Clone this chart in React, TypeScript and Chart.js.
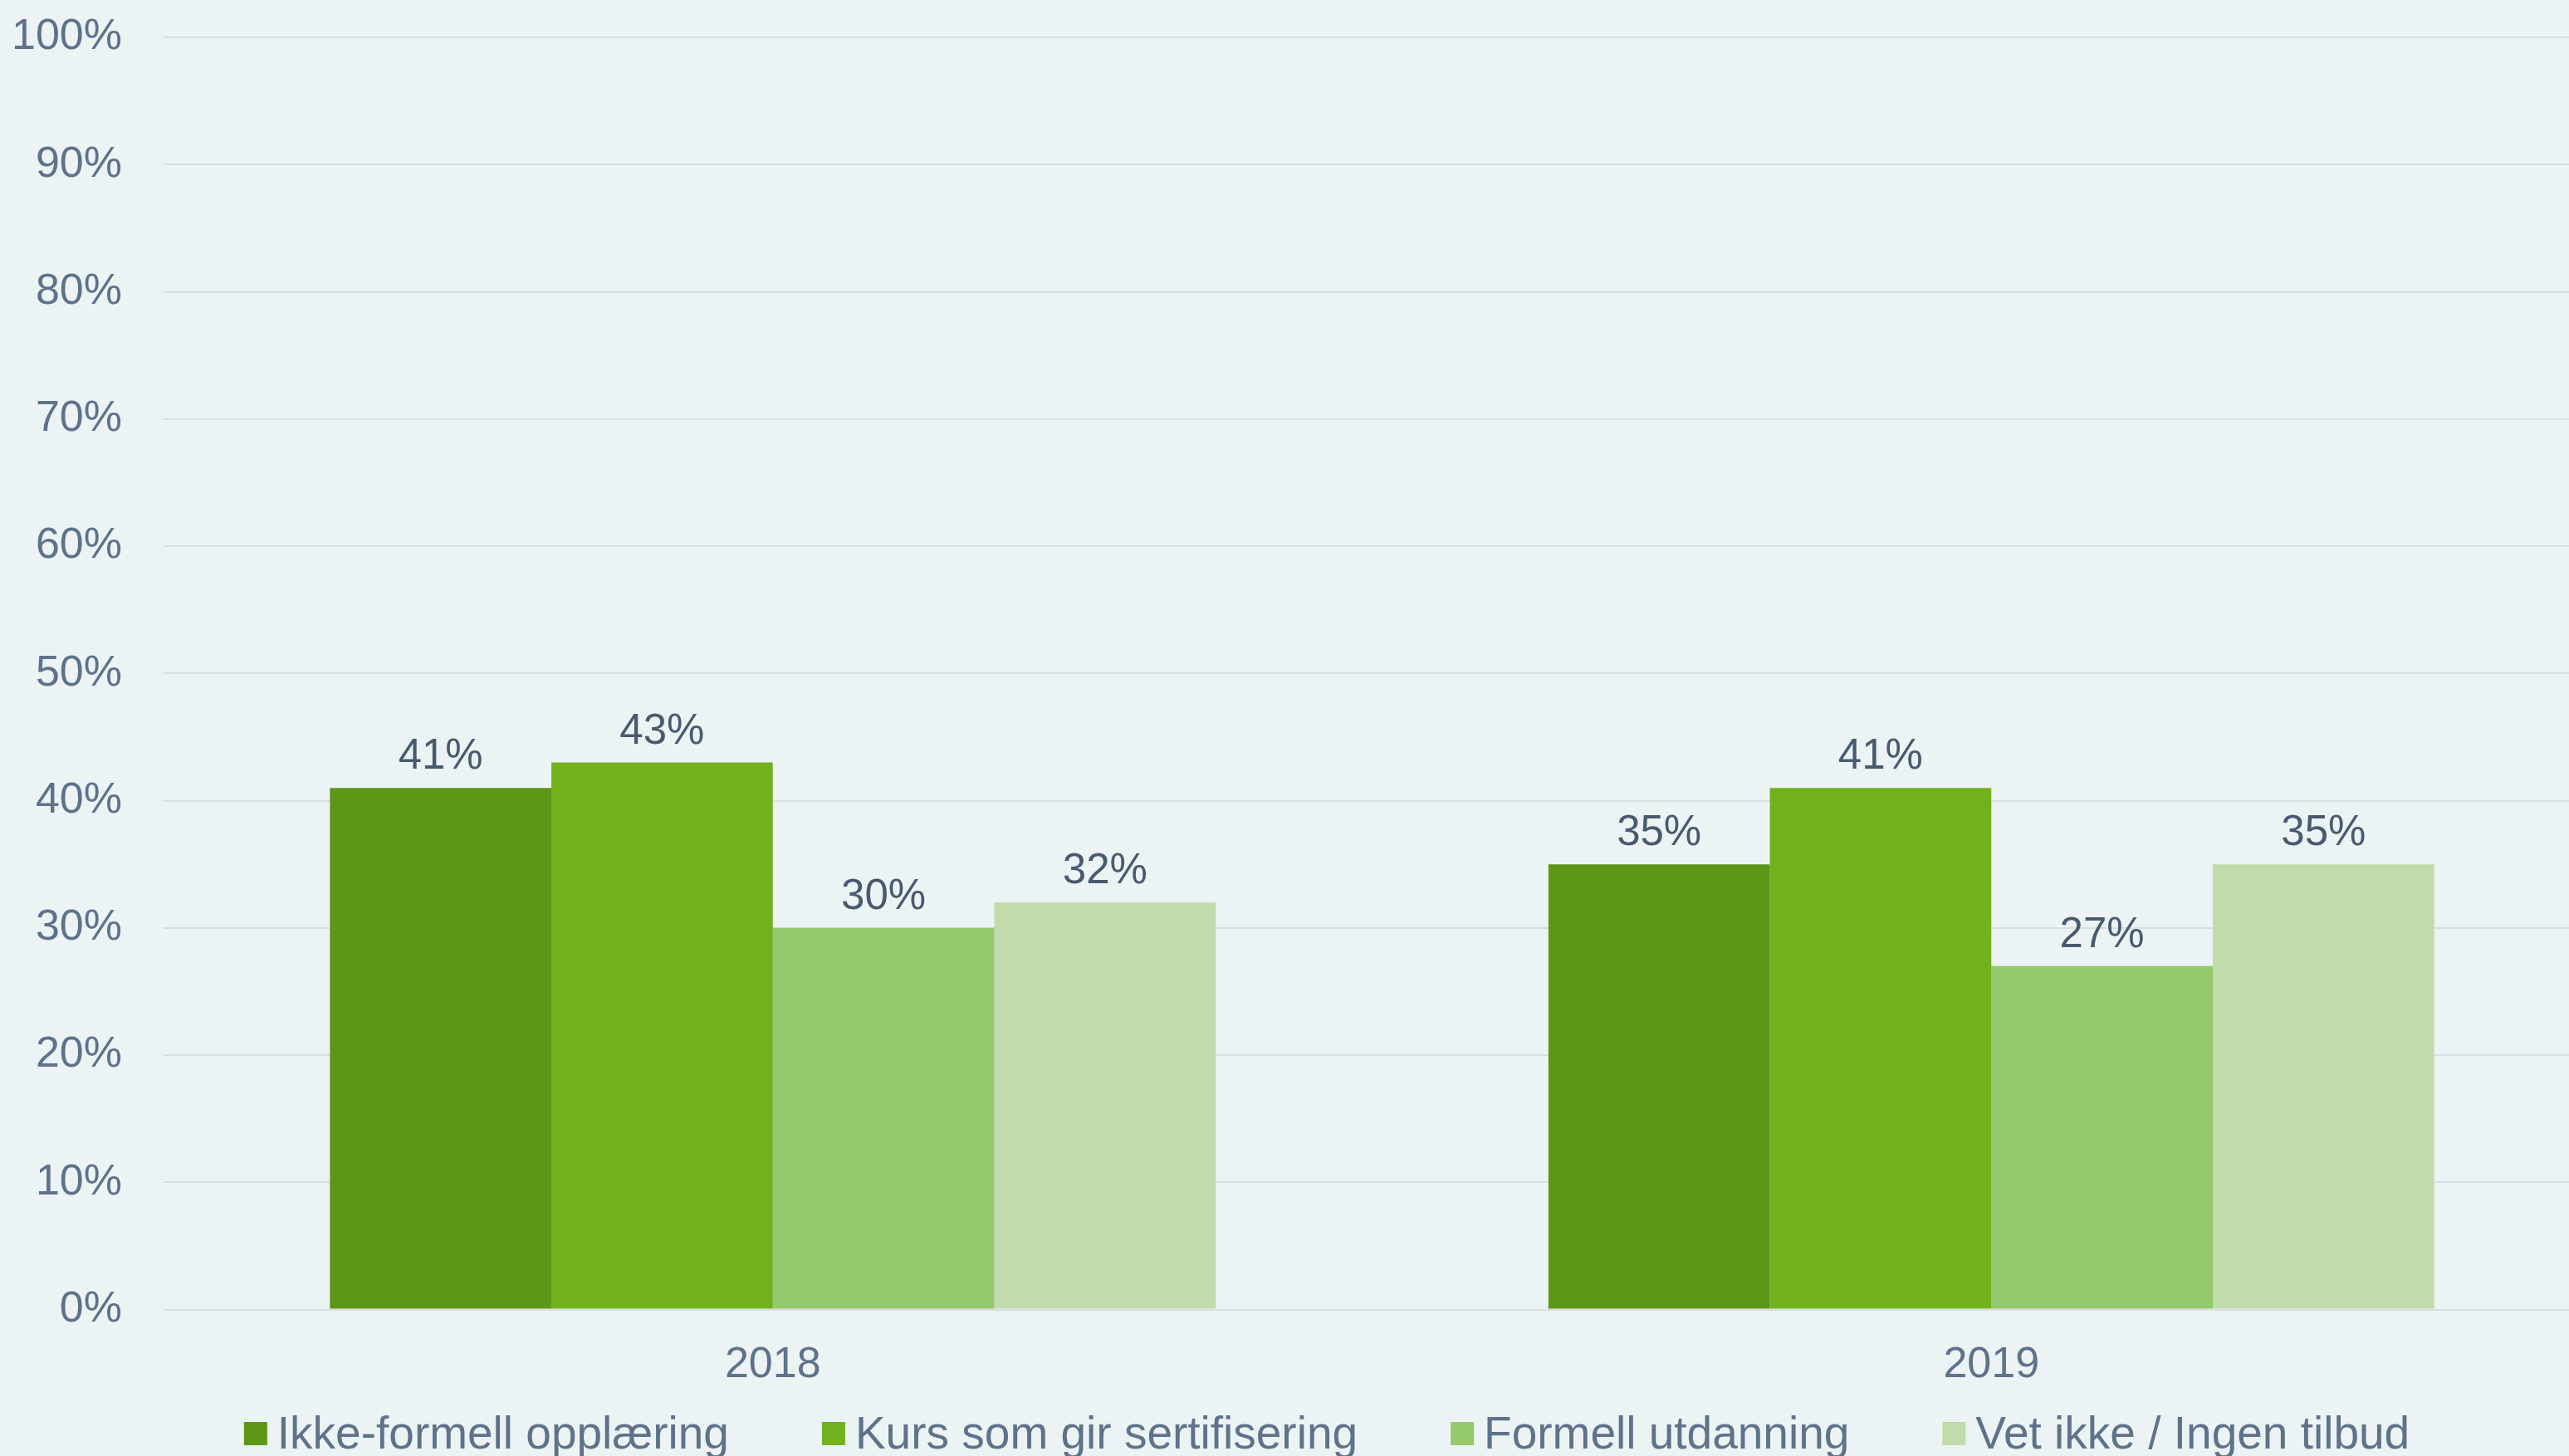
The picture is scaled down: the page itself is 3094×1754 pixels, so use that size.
import React, { useEffect, useRef } from 'react';
import { Chart, registerables } from 'chart.js';

Chart.register(...registerables);

const categories = ['2018', '2019'];
const seriesNames = [
  'Ikke-formell opplæring',
  'Kurs som gir sertifisering',
  'Formell utdanning',
  'Vet ikke / Ingen tilbud',
];
const ikkeFormell = [41, 35];
const kursSertifisering = [43, 41];
const formellUtdanning = [30, 27];
const vetIkke = [32, 35];
const seriesValues = [ikkeFormell, kursSertifisering, formellUtdanning, vetIkke];
const seriesColors = ['#5e9618', '#71b11e', '#96c96b', '#c1dbaa'];

const BG = '#ecf3f5';
const TICK_COLOR = '#5f728a';
const LABEL_COLOR = '#4a5a6e';
const FONT = '"Liberation Sans", Arial, sans-serif';

const W = 3132;
const H = 1754;

const bgPlugin = {
  id: 'bg',
  beforeDraw(chart: any) {
    const ctx = chart.ctx;
    ctx.save();
    ctx.fillStyle = BG;
    ctx.fillRect(0, 0, chart.width, chart.height);
    ctx.restore();
  },
};

const valueLabelPlugin = {
  id: 'valueLabels',
  afterDatasetsDraw(chart: any) {
    const ctx = chart.ctx;
    ctx.save();
    ctx.font = `51px ${FONT}`;
    ctx.fillStyle = LABEL_COLOR;
    ctx.textAlign = 'center';
    ctx.textBaseline = 'alphabetic';
    chart.data.datasets.forEach((ds: any, i: number) => {
      const meta = chart.getDatasetMeta(i);
      meta.data.forEach((el: any, j: number) => {
        ctx.fillText(`${ds.data[j]}%`, el.x, el.y - 23);
      });
    });
    ctx.restore();
  },
};

const legendPlugin = {
  id: 'customLegend',
  afterDraw(chart: any) {
    const ctx = chart.ctx;
    ctx.save();
    ctx.font = `55px ${FONT}`;
    ctx.textBaseline = 'alphabetic';
    ctx.textAlign = 'left';
    const box = 28;
    const boxGap = 12;
    const itemGap = 112;
    const items = chart.data.datasets.map((ds: any) => ({
      label: ds.label,
      color: ds.backgroundColor,
      w: ctx.measureText(ds.label).width,
    }));
    const total =
      items.reduce((s: number, it: any) => s + box + boxGap + it.w, 0) + itemGap * (items.length - 1);
    const center = 1598;
    let x = center - total / 2;
    const boxTop = 1713;
    const baseline = 1745;
    items.forEach((it: any) => {
      ctx.fillStyle = it.color;
      ctx.fillRect(x, boxTop, box, box);
      ctx.fillStyle = TICK_COLOR;
      ctx.fillText(it.label, x + box + boxGap, baseline);
      x += box + boxGap + it.w + itemGap;
    });
    ctx.restore();
  },
};

export default function App() {
  const ref = useRef<HTMLCanvasElement | null>(null);

  useEffect(() => {
    document.body.style.margin = '0';
    document.body.style.background = BG;
    const canvas = ref.current;
    if (!canvas) return;
    const chart = new Chart(canvas, {
      type: 'bar',
      data: {
        labels: categories,
        datasets: seriesNames.map((name, i) => ({
          label: name,
          data: seriesValues[i],
          backgroundColor: seriesColors[i],
          borderWidth: 0,
          categoryPercentage: 0.727,
          barPercentage: 1,
        })),
      },
      options: {
        responsive: false,
        devicePixelRatio: 1,
        animation: false,
        layout: { padding: { top: 45, bottom: 50, left: 0, right: 0 } },
        plugins: {
          legend: { display: false },
          tooltip: { enabled: false },
        },
        scales: {
          x: {
            grid: { display: false },
            border: { display: false },
            ticks: {
              color: TICK_COLOR,
              font: { family: FONT, size: 52 },
              padding: 28,
            },
          },
          y: {
            min: 0,
            max: 100,
            afterFit(scale: any) {
              scale.width = 197;
              scale.paddingTop = 0;
              scale.paddingBottom = 0;
            },
            grid: {
              color: '#d9dee5',
              lineWidth: 2,
              drawTicks: true,
              tickLength: 50,
              tickColor: 'rgba(0,0,0,0)',
            },
            border: { display: false },
            ticks: {
              stepSize: 10,
              color: TICK_COLOR,
              font: { family: FONT, size: 52 },
              padding: 0,
              callback: (v: any) => `${v}%`,
            },
          },
        },
      },
      plugins: [bgPlugin, valueLabelPlugin, legendPlugin],
    });
    return () => chart.destroy();
  }, []);

  return (
    <div style={{ position: 'relative', width: 3094, height: H, overflow: 'hidden', background: BG }}>
      <canvas
        ref={ref}
        width={W}
        height={H}
        style={{ position: 'absolute', left: 0, top: 0, width: W + 'px', height: H + 'px' }}
      />
    </div>
  );
}
